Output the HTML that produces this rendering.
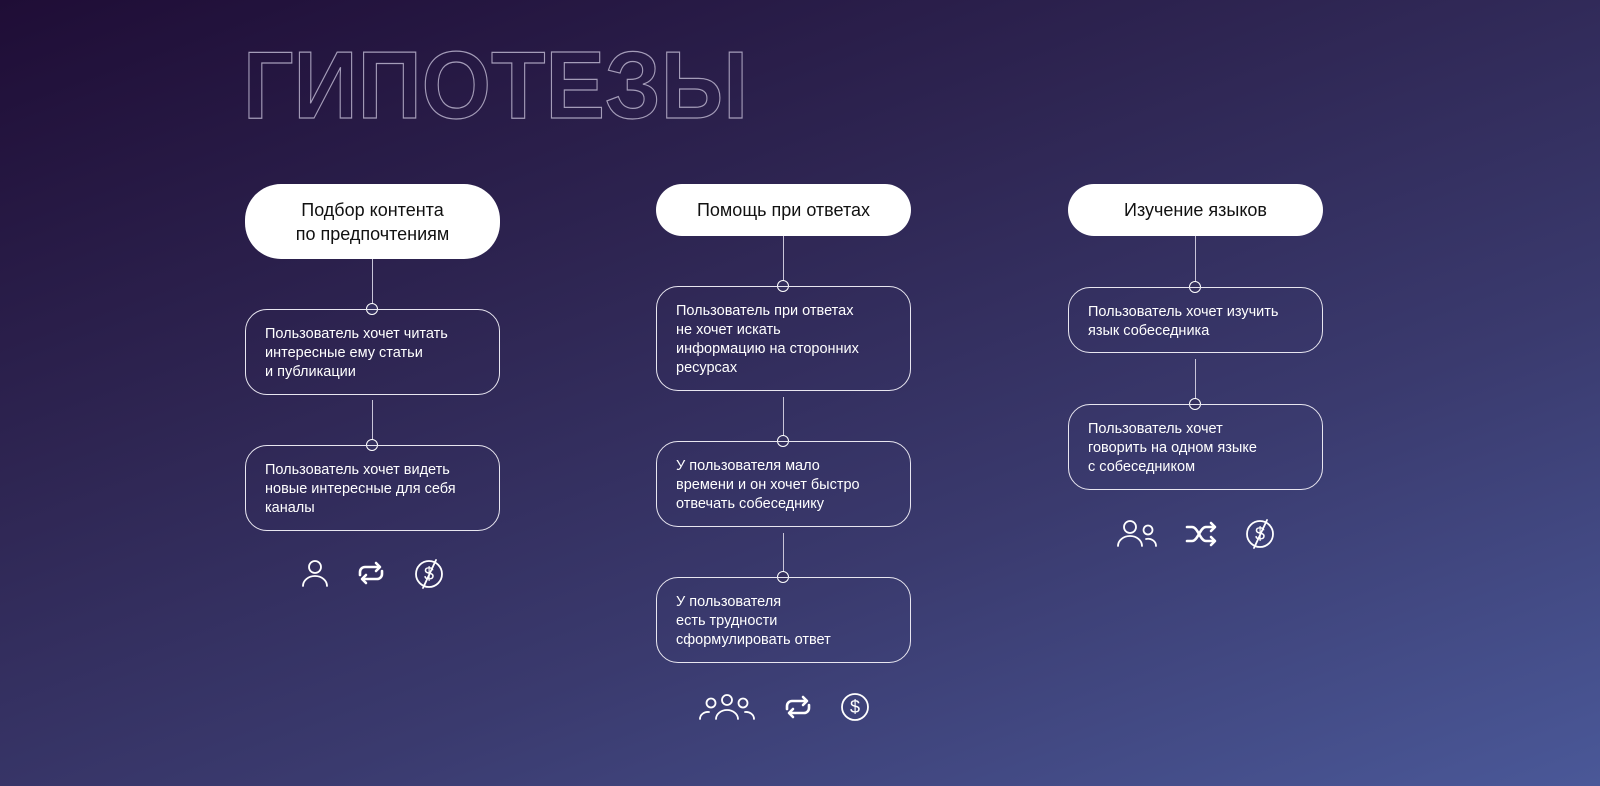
<!DOCTYPE html>
<html><head><meta charset="utf-8"><style>
*{margin:0;padding:0;box-sizing:border-box}
body{width:1600px;height:786px;overflow:hidden;position:relative;font-family:"Liberation Sans","Noto Sans CJK SC",sans-serif;
background:linear-gradient(160deg,#1f0d36 0%,#2e2552 35%,#3a3a6e 65%,#4a5898 100%);}
.h{position:absolute;background:#fff;color:#111;border-radius:28px;display:flex;align-items:center;justify-content:center;text-align:center;font-size:18px;line-height:24px}
.b{position:absolute;border:1.3px solid #e8e6f0;border-radius:22px;color:#fff;font-size:14.5px;line-height:19px;padding:15px 10px 0 19px;width:255px;white-space:nowrap}
.l{position:absolute;width:1.3px;background:#c8c4d8}
.c{position:absolute;width:12px;height:12px;border:1.5px solid #fff;border-radius:50%;background:#35305f}
</style></head><body>
<svg style="position:absolute;left:0;top:0" width="1600" height="786">
<text x="243" y="118" textLength="505" lengthAdjust="spacingAndGlyphs" font-family="Liberation Sans" font-weight="bold" font-size="96" fill="none" stroke="#a49cb8" stroke-width="1.2">ГИПОТЕЗЫ</text>
</svg>

<div class="h" style="left:245px;top:184px;width:255px;height:75px;border-radius:36px">Подбор контента<br>по предпочтениям</div>
<div class="l" style="left:372px;top:259px;height:50px"></div><div class="c" style="left:366px;top:303px"></div>
<div class="b" style="left:245px;top:309px;height:86px">Пользователь хочет читать<br>интересные ему статьи<br>и публикации</div>
<div class="l" style="left:372px;top:400px;height:45px"></div><div class="c" style="left:366px;top:439px"></div>
<div class="b" style="left:245px;top:445px;height:86px">Пользователь хочет видеть<br>новые интересные для себя<br>каналы</div>

<div class="h" style="left:656px;top:184px;width:255px;height:52px">Помощь при ответах</div>
<div class="l" style="left:783px;top:236px;height:50px"></div><div class="c" style="left:777px;top:280px"></div>
<div class="b" style="left:656px;top:286px;height:105px">Пользователь при ответах<br>не хочет искать<br>информацию на сторонних<br>ресурсах</div>
<div class="l" style="left:783px;top:397px;height:44px"></div><div class="c" style="left:777px;top:435px"></div>
<div class="b" style="left:656px;top:441px;height:86px">У пользователя мало<br>времени и он хочет быстро<br>отвечать собеседнику</div>
<div class="l" style="left:783px;top:533px;height:44px"></div><div class="c" style="left:777px;top:571px"></div>
<div class="b" style="left:656px;top:577px;height:86px">У пользователя<br>есть трудности<br>сформулировать ответ</div>

<div class="h" style="left:1068px;top:184px;width:255px;height:52px">Изучение языков</div>
<div class="l" style="left:1195px;top:236px;height:51px"></div><div class="c" style="left:1189px;top:281px"></div>
<div class="b" style="left:1068px;top:287px;height:66px">Пользователь хочет изучить<br>язык собеседника</div>
<div class="l" style="left:1195px;top:359px;height:45px"></div><div class="c" style="left:1189px;top:398px"></div>
<div class="b" style="left:1068px;top:404px;height:86px">Пользователь хочет<br>говорить на одном языке<br>с собеседником</div>

<svg width="1600" height="786" style="position:absolute;left:0;top:0" fill="none" stroke="#fff" stroke-width="1.8" stroke-linecap="round" stroke-linejoin="round">
<defs>
<g id="rep" stroke-width="2.6"><path d="M-11 2 v-3 a5 5 0 0 1 5-5 h13"/><path d="M5-10 l4 4 -4 4"/><path d="M11-2 v3 a5 5 0 0 1-5 5 h-13"/><path d="M-5 10 l-4-4 4-4"/></g>
<g id="dol"><circle r="13"/><text x="0" y="6" text-anchor="middle" font-family="Liberation Sans" font-size="18" fill="#fff" stroke="none">$</text></g>
</defs>
<circle cx="315" cy="567" r="6"/><path d="M303 586 a12 10 0 0 1 24 0"/>
<use href="#rep" x="371" y="573"/>
<use href="#dol" x="429" y="574"/><path d="M423 588 L436 560"/>
<circle cx="711" cy="703" r="4.5"/><circle cx="727" cy="700" r="5"/><circle cx="743" cy="703" r="4.5"/>
<path d="M700 719 a8 7 0 0 1 9-7"/><path d="M716 719 a11 9 0 0 1 22 0"/><path d="M754 719 a8 7 0 0 0-9-7"/>
<use href="#rep" x="798" y="707"/>
<use href="#dol" x="855" y="707"/>
<circle cx="1130" cy="527" r="6"/><circle cx="1148" cy="530" r="4.5"/>
<path d="M1118 546 a12 10 0 0 1 24 0"/><path d="M1146 539 a8 7 0 0 1 10 7"/>
<g stroke-width="2.6"><path d="M1187 527 h5 c6 0 8 14 14 14 h8 M1187 541 h5 c6 0 8-14 14-14 h8"/><path d="M1211 523 l4 4-4 4 M1211 537 l4 4-4 4"/></g>
<use href="#dol" x="1260" y="534"/><path d="M1254 548 L1267 520"/>
</svg>
</body></html>
